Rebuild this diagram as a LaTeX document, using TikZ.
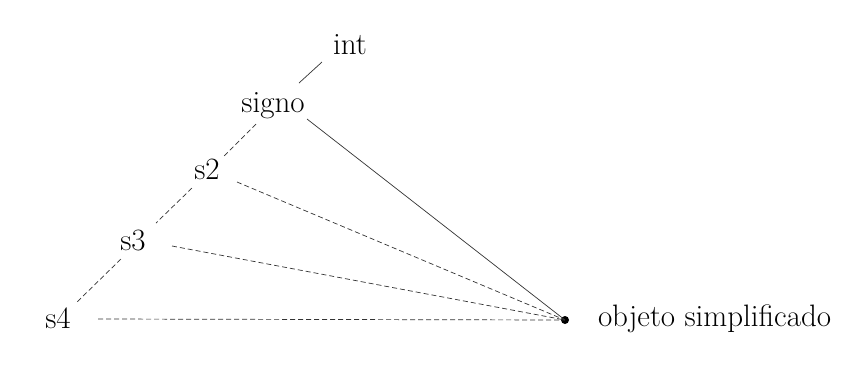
\documentclass[tikz,border=0pt]{standalone}
\usepackage{fontspec}
\usetikzlibrary{calc}
\begin{document}
\begin{tikzpicture}[x=1pt,y=-1pt,
  lbl/.style={inner sep=0pt,outer sep=0pt,text height=20pt,text depth=0pt,anchor=base,font=\fontsize{31}{37}\selectfont},
  link/.style={line width=0.7pt,black!80},
  dlink/.style={line width=0.7pt,black!80,dash pattern=on 5pt off 3pt},
  pt/.style={circle,fill=black,inner sep=0pt,minimum size=8pt}]
\useasboundingbox[fill=white] (0,0) rectangle (841,365);
\node[lbl] (int) at (350,54) {int};
\node[lbl] (signo) at (273,112) {signo};
\node[lbl] (s2) at (207,179) {s2};
\node[lbl] (s3) at (133,250) {s3};
\node[lbl] (s4) at (58,328) {s4};
\node[pt] (dot) at (565,320) {};
\node[lbl,anchor=base west] (obj) at (598,326) {objeto simplificado};
\draw[link] ($(int.center)+(-28,18)$) -- ($(signo.center)+(26,-19)$);
\draw[dlink] ($(signo.center)+(-17,22)$) -- ($(s2.center)+(16,-12)$);
\draw[dlink] ($(s2.center)+(-15,19)$) -- ($(s3.center)+(23,-17)$);
\draw[dlink] ($(s3.center)+(-12,19)$) -- ($(s4.center)+(19,-16)$);
\draw[link] ($(signo.center)+(34,17)$) -- (dot.center);
\draw[dlink] ($(s2.center)+(30,13)$) -- (dot.center);
\draw[dlink] ($(s3.center)+(39,6)$) -- (dot.center);
\draw[dlink] ($(s4.center)+(40,1)$) -- (dot.center);
\end{tikzpicture}
\end{document}
